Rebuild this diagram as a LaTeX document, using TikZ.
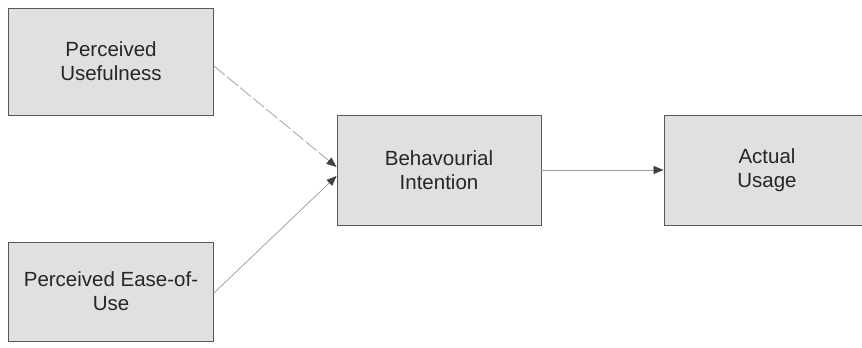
\documentclass[tikz,border=0pt]{standalone}
\usepackage{fontspec}
\setmainfont{Liberation Sans}
\usetikzlibrary{arrows.meta}

\begin{document}
\begin{tikzpicture}[x=1pt,y=-1pt,
    box/.style={draw=black!65, line width=0.9pt, fill=black!12, align=center,
      inner sep=0pt, font=\fontsize{20.5}{24}\selectfont, text=black!85},
    link/.style={draw=black!40, line width=0.7pt,
      -{Triangle[length=10pt,width=8pt,color=black!75]}}]
    \useasboundingbox (0,0) rectangle (862,348);
    % the four constructs
    \node[box, minimum width=205pt, minimum height=107pt] (pu) at (111,61.5) {Perceived\\Usefulness};
    \node[box, minimum width=205pt, minimum height=99pt] (peou) at (111,291.5) {Perceived Ease-of-\\Use};
    \node[box, minimum width=204pt, minimum height=110pt] (bi) at (439,170) {Behavourial\\Intention};
    \node[box, minimum width=206pt, minimum height=110pt] (au) at (767,170) {Actual\\Usage};
    % connectors
    \draw[link, dash pattern=on 14pt off 3pt] (pu.east |- 0,66) -- (bi.west |- 0,167);
    \draw[link] (peou.east |- 0,293) -- (bi.west |- 0,176);
    \draw[link] (bi) -- (au);
  \end{tikzpicture}
\end{document}
